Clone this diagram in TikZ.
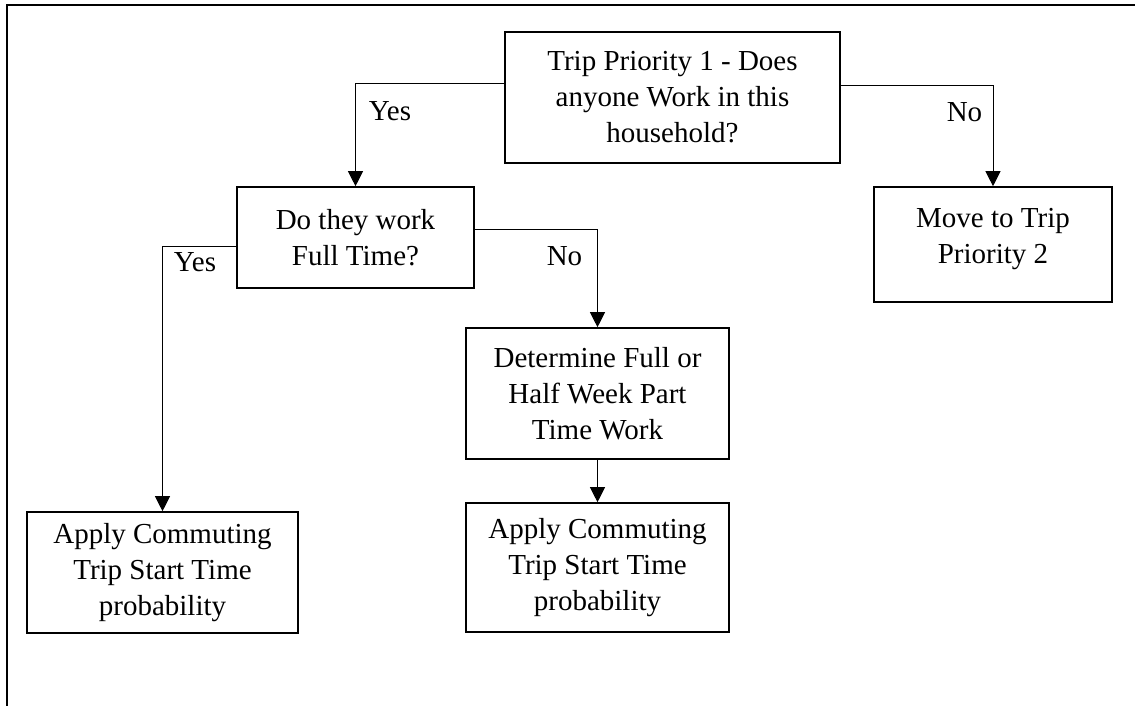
\documentclass[tikz,border=0pt]{standalone}
\usepackage{fontspec}
\setmainfont{Liberation Serif}
\usetikzlibrary{arrows.meta,calc}

\tikzset{
  box/.style={draw, line width=1.6pt, align=center, inner sep=0pt,
    font=\fontsize{29}{36}\selectfont},
  conn/.style={line width=1pt, -{Triangle[width=15pt,length=15pt]}},
  lbl/.style={anchor=base, inner sep=0pt, font=\fontsize{29}{36}\selectfont},
  frame/.style={line width=2pt}
}

\begin{document}
\begin{tikzpicture}[x=1pt,y=-1pt]
  \useasboundingbox (0,0) rectangle (1135,706);

  % open frame: top and left edges only
  \coordinate (fbl) at (7,706);
  \coordinate (ftl) at (7,5.5);
  \coordinate (ftr) at (1135,5.5);
  \draw[frame] (fbl) -- (ftl) -- (ftr);

  % decision and action boxes
  \node[box, minimum width=335pt, minimum height=131pt] (b1) at (672.5,97.5)
    {Trip Priority 1 - Does\\anyone Work in this\\household?};
  \node[box, minimum width=237pt, minimum height=101pt] (b2) at (355.5,237.5)
    {Do they work\\Full Time?};
  \node[box, minimum width=238pt, minimum height=115pt] (b3) at (993,244.5) {};
  \node[lbl, anchor=center, align=center] (t3) at (993,239.5)
    {Move to Trip\\Priority 2};
  \node[box, minimum width=271pt, minimum height=121pt] (b4) at (162.5,572.5)
    {Apply Commuting\\Trip Start Time\\probability};
  \node[box, minimum width=263pt, minimum height=131pt] (b5) at (597.5,393.5)
    {Determine Full or\\Half Week Part\\Time Work};
  \node[box, minimum width=263pt, minimum height=129pt] (b6) at (597.5,567.5)
    {Apply Commuting\\Trip Start Time\\probability};

  % connectors
  \draw[conn] ([yshift=13.5pt]b1.west) -| (b2.north);
  \draw[conn] ([yshift=12pt]b1.east) -| (b3.north);
  \draw[conn] ([yshift=-8.5pt]b2.west) -| (b4.north);
  \draw[conn] ([yshift=8.5pt]b2.east) -| (b5.north);
  \draw[conn] (b5.south) -- (b6.north);

  % branch labels
  \node[lbl] (y1) at (390,121) {Yes};
  \node[lbl] (n1) at (964.5,122) {No};
  \node[lbl] (y2) at (195,271) {Yes};
  \node[lbl] (n2) at (564.5,265) {No};
\end{tikzpicture}
\end{document}
